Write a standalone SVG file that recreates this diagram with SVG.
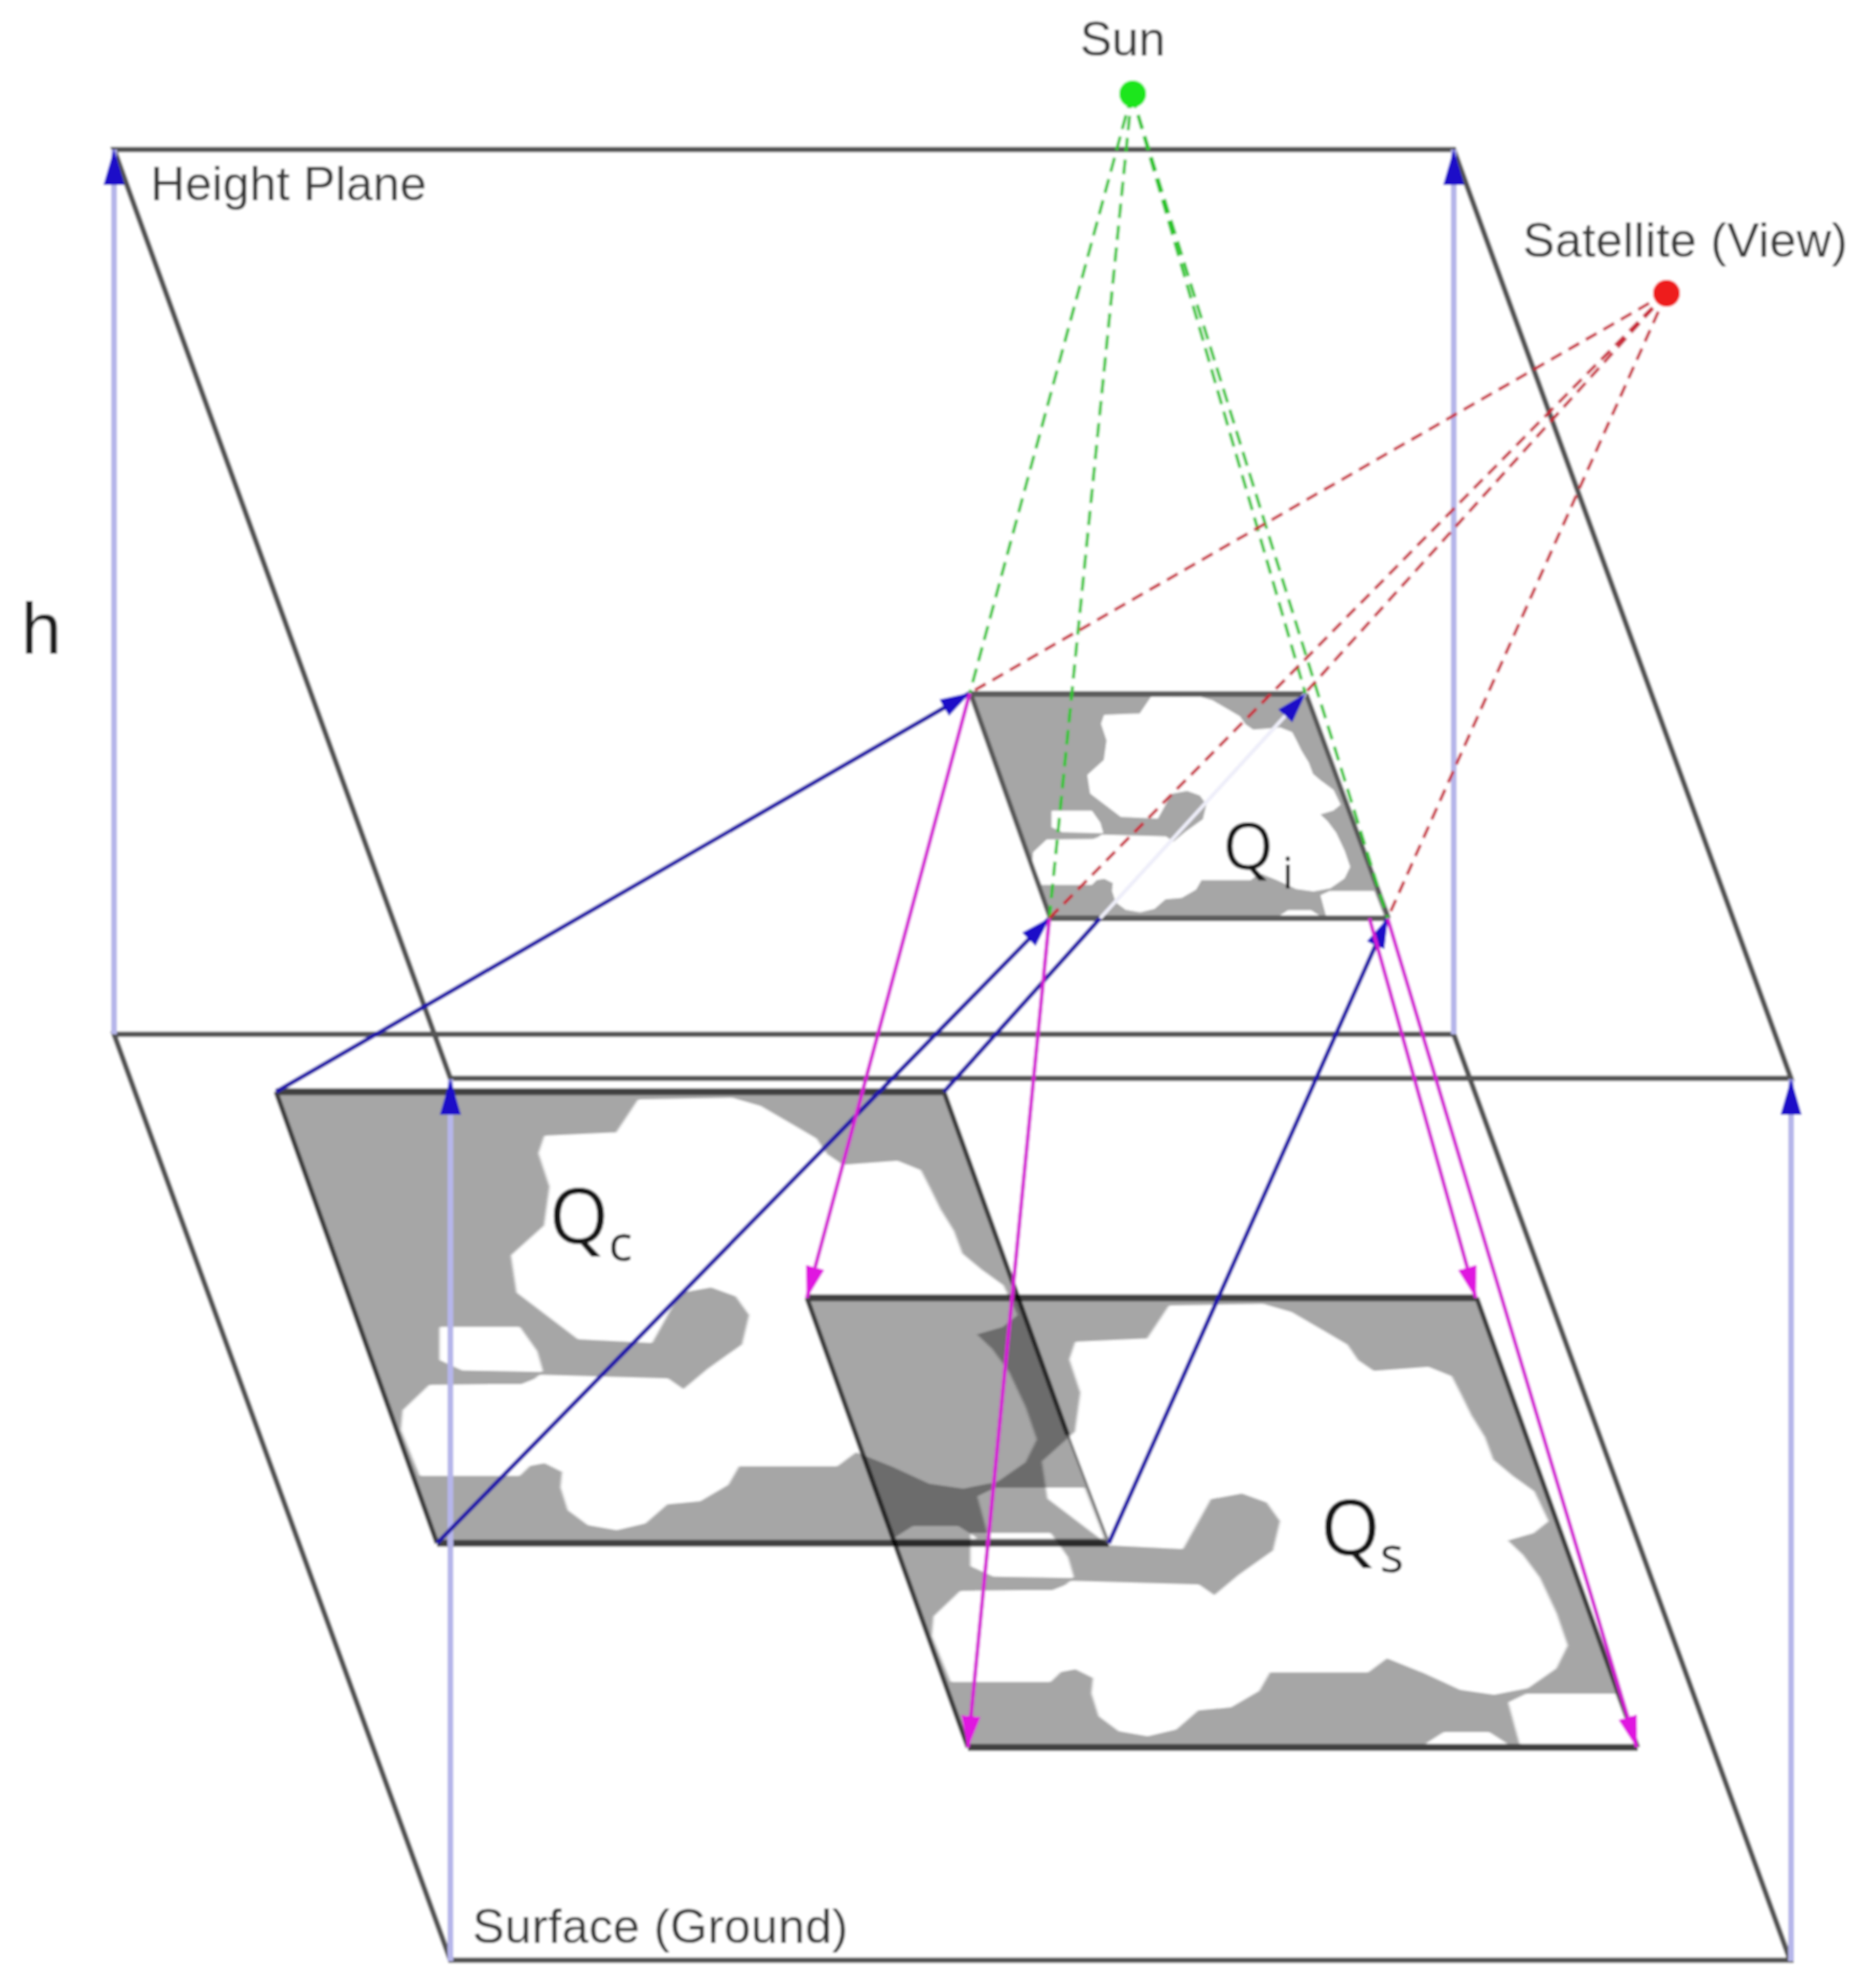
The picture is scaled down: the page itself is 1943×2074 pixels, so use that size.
<svg xmlns="http://www.w3.org/2000/svg" xmlns:xlink="http://www.w3.org/1999/xlink" width="1943" height="2074" viewBox="0 0 1943 2074">
<style>
.plane{fill:none;stroke:#545454;stroke-width:5.5;stroke-linejoin:miter}
.gray{fill:#a6a6a6}
.white{fill:#fff;stroke:#fff;stroke-width:8;stroke-linejoin:round}
.cl{filter:url(#smooth)}
.edgeH{stroke:#404040;stroke-width:7;fill:none}
.edgeS{stroke:#404040;stroke-width:5;fill:none}
.thin{stroke:#808080;stroke-width:3;fill:none}
.mul{mix-blend-mode:multiply}
.up{stroke:#b6b6ea;stroke-width:6;fill:none;marker-end:url(#ah)}
.blue{stroke:#2018a8;stroke-width:4.5;fill:none}
.bluea{stroke:#2018a8;stroke-width:4.5;fill:none;marker-end:url(#ab)}
.mag{stroke:#d41cd4;stroke-width:4;fill:none;marker-end:url(#am)}
.grn{stroke:#2cc42c;stroke-width:3.2;fill:none;stroke-dasharray:15 8}
.red{stroke:#c82838;stroke-width:3.2;fill:none;stroke-dasharray:13 8}
.lbl{font-family:"Liberation Sans",Arial,sans-serif;font-size:50px;fill:#383838}
.q{font-family:"Open Sans","DejaVu Sans",sans-serif;fill:#141414}
</style>
<defs>
<filter id="soft" filterUnits="userSpaceOnUse" x="0" y="0" width="1943" height="2074"><feGaussianBlur stdDeviation="0.9"/></filter>
<filter id="smooth" filterUnits="userSpaceOnUse" x="0" y="0" width="1943" height="2074"><feGaussianBlur stdDeviation="1.6"/></filter>
<marker id="ah" markerUnits="userSpaceOnUse" markerWidth="38" markerHeight="24" refX="37" refY="12" viewBox="0 0 38 24" orient="auto"><path d="M0,1 L38,12 L0,23 Z" fill="#1a10c8"/></marker>
<marker id="ab" markerUnits="userSpaceOnUse" markerWidth="32" markerHeight="22" refX="31" refY="11" viewBox="0 0 32 22" orient="auto"><path d="M0,1 L32,11 L0,21 Z" fill="#1a10c8"/></marker>
<marker id="am" markerUnits="userSpaceOnUse" markerWidth="34" markerHeight="22" refX="33" refY="11" viewBox="0 0 34 22" orient="auto"><path d="M0,1 L34,11 L0,21 Z" fill="#e018e0"/></marker>
<g id="cloud">
<path class="white" d="M682,70 L850,65 900,90 960,150 1000,190 1020,240 1050,275 1150,262 1190,290 1205,340 1225,410 1250,480 1265,550 1300,600 1340,650 1365,740 1340,775 1290,800 1320,850 1350,920 1380,1030 1400,1130 1380,1200 1330,1260 1270,1280 1210,1265 1140,1210 1075,1165 1040,1210 860,1210 840,1270 790,1320 730,1330 690,1390 640,1410 590,1395 555,1350 542,1280 545,1230 510,1200 480,1210 462,1240 285,1240 252,1100 255,1040 302,963 470,960 492,945 502,932 732,943 762,979 810,910 872,834 885,740 860,680 812,650 752,669 702,824 572,813 462,669 452,555 512,462 522,338 502,235 512,183 642,173 Z"/>
<path class="white" d="M322,782 L462,782 492,855 502,915 360,910 322,880 Z"/>
<path class="white" d="M1300,1310 L1330,1285 1488,1285 1522,1436 1320,1436 Z"/>
<path class="white" d="M1150,1438 L1180,1405 1260,1405 1290,1438 Z"/>
</g>
</defs>
<g filter="url(#soft)">
<rect width="1943" height="2074" fill="#fff"/>
<g id="height-plane">
<path class="plane" d="M119,156 H1517 L1869,1125 H470 Z"/>
<text class="lbl" x="157" y="209" textLength="288">Height Plane</text>
</g>
<g id="surface-ground">
<path class="plane" d="M119,1079 H1517 L1868,2045 H470 Z"/>
<text class="lbl" x="493" y="2027" textLength="392">Surface (Ground)</text>
</g>
<g id="q-s" class="mul">
<path class="gray" d="M842,1354 H1541 L1709,1823 H1010 Z"/>
<use class="cl" xlink:href="#cloud" href="#cloud" transform="matrix(0.574,0,0,0.3333,830,1340)"/>
<path class="edgeH" d="M842,1354 H1541 M1010,1823 H1709"/>
<path class="edgeS" d="M842,1354 L1010,1823 M1541,1354 L1709,1823"/>
<text class="q" font-size="80" x="1378" y="1622">Q<tspan font-size="52" x="1440" y="1640">s</tspan></text>
</g>
<g id="q-c" class="mul">
<path class="gray" d="M288,1139 H985 L1157,1610 H456 Z"/>
<use class="cl" xlink:href="#cloud" href="#cloud" transform="matrix(0.574,0,0,0.3333,276,1125)"/>
<path class="edgeH" d="M288,1139 H985 M456,1610 H1157"/>
<path class="edgeS" d="M288,1139 L456,1610 M985,1139 L1114,1497"/>
<path class="thin" d="M1114,1497 L1157,1610"/>
<text class="q" font-size="80" x="573" y="1297">Q<tspan font-size="52" x="635" y="1315">c</tspan></text>
</g>
<g id="q-i">
<path class="gray" d="M1013,724 H1363 L1449,958 H1096 Z"/>
<use class="cl" xlink:href="#cloud" href="#cloud" transform="matrix(0.287,0,0,0.1667,1006,716)"/>
<path d="M1013,724 H1363 M1096,958 H1449" stroke="#5c5c5c" stroke-width="6" fill="none"/>
<path d="M1013,724 L1096,958 M1363,724 L1449,958" stroke="#585858" stroke-width="5" fill="none"/>
<text class="q" font-size="68" x="1276" y="907">Q<tspan font-size="46" x="1338" y="927">i</tspan></text>
</g>
<g id="connectors">
<line class="up" x1="119" y1="1079" x2="119" y2="156"/>
<line class="up" x1="1517" y1="1079" x2="1517" y2="156"/>
<line class="up" x1="470" y1="2046" x2="470" y2="1126"/>
<line class="up" x1="1869" y1="2046" x2="1869" y2="1126"/>
<line class="bluea" x1="288" y1="1139" x2="1012" y2="723"/>
<line class="bluea" x1="456" y1="1610" x2="1095" y2="958"/>
<line class="blue" x1="985" y1="1139" x2="1148" y2="958"/>
<line stroke="#eeeef9" stroke-width="4" marker-end="url(#ab)" x1="1148" y1="958" x2="1362" y2="724"/>
<line class="bluea" x1="1157" y1="1610" x2="1448" y2="958"/>
<line class="mag" x1="1012" y1="723" x2="842" y2="1354"/>
<line class="mag" x1="1095" y1="958" x2="1010" y2="1823"/>
<line class="mag" x1="1429" y1="958" x2="1540" y2="1354"/>
<line class="mag" x1="1448" y1="958" x2="1708" y2="1823"/>
<g>
<line class="grn" x1="1181" y1="98" x2="1012" y2="723"/>
<line class="grn" x1="1181" y1="98" x2="1095" y2="958"/>
<line class="grn" x1="1181" y1="98" x2="1362" y2="723"/>
<line class="grn" x1="1181" y1="98" x2="1448" y2="958"/>
</g>
<g>
<line class="red" x1="1739" y1="306" x2="1012" y2="723"/>
<line class="red" x1="1739" y1="306" x2="1095" y2="958"/>
<line class="red" x1="1739" y1="306" x2="1362" y2="723"/>
<line class="red" x1="1739" y1="306" x2="1448" y2="958"/>
</g>
</g>
<g id="sun">
<circle cx="1182" cy="98" r="14" fill="#1ee61e"/>
<text class="lbl" x="1127" y="58">Sun</text>
</g>
<g id="satellite">
<circle cx="1739" cy="306" r="14" fill="#ee1c1c"/>
<text class="lbl" x="1589" y="268" textLength="339">Satellite (View)</text>
</g>
<g id="height-label">
<text x="22" y="682" font-family="'Liberation Sans',Arial,sans-serif" font-size="76" fill="#1c1c1c">h</text>
</g>
</g>
</svg>
